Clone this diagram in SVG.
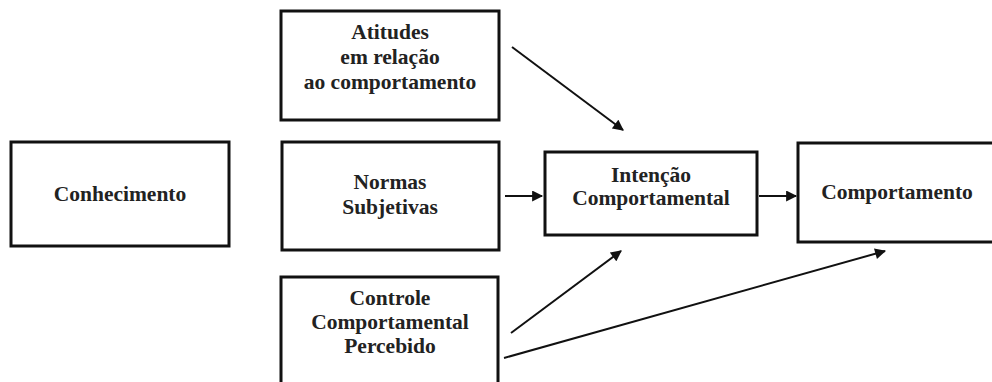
<svg xmlns="http://www.w3.org/2000/svg" width="992" height="382" viewBox="0 0 992 382">
<defs>
<style>
.box{fill:#fff;stroke:#111;stroke-width:3}
.t{font-family:"Liberation Serif","Times New Roman",serif;font-weight:bold;font-size:21.5px;fill:#222;text-anchor:middle}
.c{stroke:#111;stroke-width:2;fill:none;marker-end:url(#ah)}
</style>
<marker id="ah" viewBox="0 0 10 10" refX="9" refY="5" markerWidth="12" markerHeight="11" markerUnits="userSpaceOnUse" orient="auto"><path d="M0,0L10,5L0,10z" fill="#111"/></marker>
</defs>
<rect width="992" height="382" fill="#fff"/>
<g id="conhecimento"><rect class="box" x="11" y="142" width="218" height="104"/><text class="t" x="120" y="201">Conhecimento</text></g>
<g id="atitudes"><rect class="box" x="281" y="11" width="218" height="109"/><text class="t" x="390" y="39">Atitudes</text><text class="t" x="390" y="64">em relação</text><text class="t" x="390" y="89">ao comportamento</text></g>
<g id="normas"><rect class="box" x="282" y="142" width="217" height="108"/><text class="t" x="390" y="189">Normas</text><text class="t" x="390" y="214">Subjetivas</text></g>
<g id="controle"><rect class="box" x="281" y="277" width="217" height="120"/><text class="t" x="390" y="305">Controle</text><text class="t" x="390" y="329">Comportamental</text><text class="t" x="390" y="353">Percebido</text></g>
<g id="intencao"><rect class="box" x="545" y="152" width="212" height="83"/><text class="t" x="651" y="182">Intenção</text><text class="t" x="651" y="205">Comportamental</text></g>
<g id="comportamento"><rect class="box" x="798" y="143" width="210" height="99"/><text class="t" x="897" y="199">Comportamento</text></g>
<g id="connectors">
<line class="c" x1="512" y1="47" x2="623" y2="130"/>
<line class="c" x1="505" y1="196" x2="542" y2="196"/>
<line class="c" x1="759" y1="196" x2="796" y2="196"/>
<line class="c" x1="511" y1="333" x2="621" y2="251"/>
<line class="c" x1="504" y1="358" x2="885" y2="251"/>
</g>
</svg>
